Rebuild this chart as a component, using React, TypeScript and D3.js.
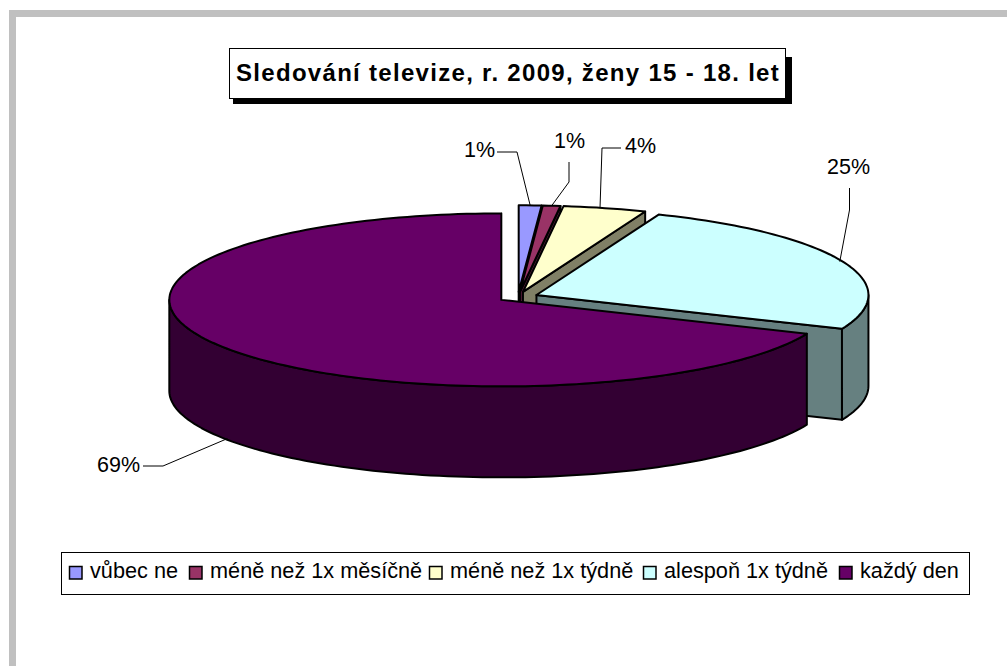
import React from "react";
import * as d3 from "d3";

const categories = ["vůbec ne", "méně než 1x měsíčně", "méně než 1x týdně", "alespoň 1x týdně", "každý den"];
const shares = [1.1, 0.85, 4.05, 25.4, 68.6];
const labels = ["1%", "1%", "4%", "25%", "69%"];
const topColors = ["#9999ff", "#993366", "#ffffcc", "#ccffff", "#660066"];
const sideColors = ["#4d4d80", "#4d1a33", "#808066", "#668080", "#330033"];
const legendX = [69, 189, 429, 643, 839];

const W = 1007;
const H = 666;
const cx = 518;
const cy = 297;
const rx = 332;
const ry = 86.5;
const depth = 91;
const explode = 20;

const font = "'Liberation Sans', Arial, sans-serif";

// where each label sits and how its leader line bends
const labelPos = [
  { x: 464, y: 157, bend: [[497, 152], [517, 152]], dx: 0, dy: 0 },
  { x: 554, y: 148, bend: [[569, 162], [569, 182]], dx: 0, dy: 0 },
  { x: 625, y: 153, bend: [[621, 148], [602, 148]], dx: -5, dy: 0 },
  { x: 827, y: 174, bend: [[849.5, 188], [849.5, 210]], dx: -3, dy: 0 },
  { x: 97, y: 472, bend: [[143, 466], [163, 466]], dx: 3, dy: depth },
];

const pie = d3.pie<number>().sort(null).value((d) => d)(shares);
const line = d3.line();

export default function App() {
  const slices = pie.map((p, i) => {
    const mid = (p.startAngle + p.endAngle) / 2;
    const ox = cx + explode * Math.sin(mid);
    const oy = cy - (explode * ry * Math.cos(mid)) / rx;
    const at = (a: number, dy = 0): [number, number] => [
      ox + rx * Math.sin(a),
      oy - ry * Math.cos(a) + dy,
    ];
    const arcPts = (a0: number, a1: number, dy = 0) => {
      const n = Math.max(2, Math.ceil(((a1 - a0) / Math.PI) * 120));
      return d3.range(n + 1).map((k) => at(a0 + ((a1 - a0) * k) / n, dy));
    };
    return { p, i, mid, ox, oy, at, arcPts };
  });

  const wallArc = (s: (typeof slices)[number]) => {
    const a0 = Math.max(s.p.startAngle, Math.PI / 2);
    const a1 = Math.min(s.p.endAngle, (3 * Math.PI) / 2);
    if (a1 <= a0) return null;
    return [...s.arcPts(a0, a1), ...s.arcPts(a0, a1, depth).reverse()] as [number, number][];
  };

  return (
    <svg
      width={W}
      height={H}
      style={{ position: "absolute", left: 0, top: 0, background: "#fff" }}
      fontFamily={font}
    >
      {/* grey page frame */}
      <rect x={9} y={10} width={W - 9} height={7} fill="#c0c0c0" />
      <rect x={9} y={10} width={7} height={H - 10} fill="#c0c0c0" />

      {/* title */}
      <rect x={233} y={57} width={559} height={47} fill="#000" />
      <rect x={229.5} y={48.5} width={556} height={50} fill="#fff" stroke="#000" strokeWidth={1} />
      <text x={236} y={81} fontSize={24} fontWeight="bold" letterSpacing={1.3}>
        Sledování televize, r. 2009, ženy 15 - 18. let
      </text>

      {/* pie, back slices first */}
      <g stroke="#000" strokeWidth={2} strokeLinejoin="round">
        {slices.map((s) => {
          const wall = wallArc(s);
          const vertex: [number, number] = [s.ox, s.oy];
          const rimEnd = s.at(s.p.endAngle);
          const end: [number, number][] = [
            vertex,
            rimEnd,
            [rimEnd[0], rimEnd[1] + depth],
            [vertex[0], vertex[1] + depth],
          ];
          const top: [number, number][] = [vertex, ...s.arcPts(s.p.startAngle, s.p.endAngle)];
          return (
            <g key={s.i}>
              {s.p.endAngle < Math.PI * 1.5 && (
                <path d={line(end)! + "Z"} fill={sideColors[s.i]} />
              )}
              {wall && <path d={line(wall)! + "Z"} fill={sideColors[s.i]} />}
              <path d={line(top)! + "Z"} fill={topColors[s.i]} />
            </g>
          );
        })}
      </g>

      {/* leader lines and percent labels */}
      {slices.map((s) => {
        const lp = labelPos[s.i];
        const rim = s.at(s.mid, lp.dy);
        const pts = [...lp.bend, [rim[0] + lp.dx, rim[1]]] as [number, number][];
        return (
          <g key={s.i}>
            <path d={line(pts)!} fill="none" stroke="#000" strokeWidth={1} />
            <text x={lp.x} y={lp.y} fontSize={21.5} fill="#000">
              {labels[s.i]}
            </text>
          </g>
        );
      })}

      {/* legend */}
      <rect x={61.5} y={552.5} width={908} height={42} fill="#fff" stroke="#000" strokeWidth={1} />
      {categories.map((c, i) => (
        <g key={c}>
          <rect x={legendX[i] + 0.5} y={566.5} width={12.5} height={12.5} fill={topColors[i]} stroke="#000" strokeWidth={1.5} />
          <text x={legendX[i] + 21} y={578} fontSize={21.7} fill="#000">
            {c}
          </text>
        </g>
      ))}
    </svg>
  );
}
